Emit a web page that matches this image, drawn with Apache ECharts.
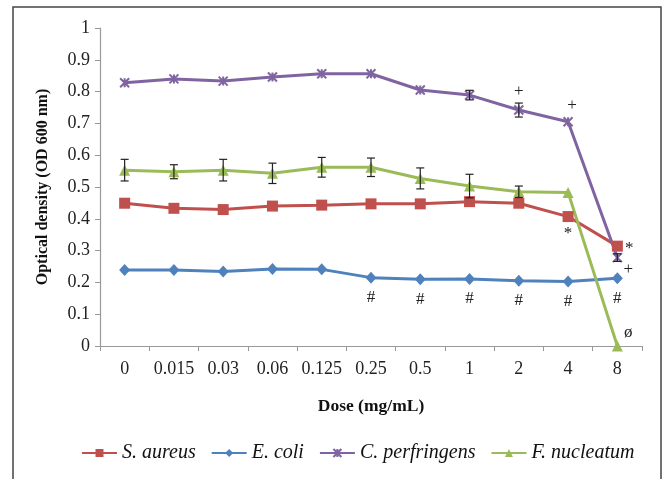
<!DOCTYPE html>
<html><head><meta charset="utf-8">
<script src="https://cdn.jsdelivr.net/npm/echarts@6/dist/echarts.min.js"></script>
<style>html,body{margin:0;padding:0;background:#fff}#c{width:664px;height:479px}</style>
</head><body><div id="c"></div>
<script>
var categories = ['0','0.015','0.03','0.06','0.125','0.25','0.5','1','2','4','8'];
var sAureus      = [0.449,0.433,0.429,0.440,0.443,0.447,0.447,0.454,0.449,0.407,0.314];
var eColi        = [0.239,0.239,0.234,0.242,0.241,0.215,0.210,0.211,0.205,0.203,0.213];
var cPerfringens = [0.828,0.840,0.833,0.846,0.856,0.856,0.805,0.789,0.742,0.705,0.278];
var fNucleatum   = [0.553,0.548,0.553,0.543,0.562,0.562,0.527,0.503,0.485,0.483,0.000];
var errAureus      = [0,0,0,0,0,0,0,0,0,0,0];
var errColi        = [0,0,0,0,0,0,0,0,0,0,0];
var errPerfringens = [0,0,0,0,0,0,0,0.015,0.022,0,0.012];
var errNucleatum   = [0.034,0.022,0.034,0.032,0.031,0.029,0.033,0.037,0.018,0,0];
var markAureus      = ['','','','','','','','','','*','*'];
var markColi        = ['','','','','','#','#','#','#','#','#'];
var markPerfringens = ['','','','','','','','','+','+','+'];
var markNucleatum   = ['','','','','','','','','','','ø'];
var yTicks = {min:0, max:1, interval:0.1};

var serif = '"Liberation Serif","DejaVu Serif",serif';
var colors = {aureus:'#C0504D', coli:'#4F81BD', perf:'#8064A2', nuc:'#9BBB59'};

function withMarks(values, marks, offsets){
  return values.map(function(v,i){
    var m = marks[i];
    if(!m) return v;
    var off = offsets(i);
    return {value:v, label:{show:true, formatter:m, position:'inside', offset:off,
      color:'#222', fontFamily:serif, fontSize:17}};
  });
}

function errSeries(values, errs){
  var data = values.map(function(v,i){return [i, v, errs[i]];});
  return {
    type:'custom', z:5, silent:true, legendHoverLink:false,
    renderItem:function(params, api){
      var e = api.value(2);
      if(!e) return;
      var i = api.value(0), v = api.value(1);
      var top = api.coord([i, v+e]);
      var bot = api.coord([i, v-e]);
      var w = 4;
      var st = {stroke:'#222', lineWidth:1.2};
      return {type:'group', children:[
        {type:'line', shape:{x1:top[0],y1:top[1],x2:bot[0],y2:bot[1]}, style:st},
        {type:'line', shape:{x1:top[0]-w,y1:top[1],x2:top[0]+w,y2:top[1]}, style:st},
        {type:'line', shape:{x1:bot[0]-w,y1:bot[1],x2:bot[0]+w,y2:bot[1]}, style:st}
      ]};
    },
    data:data
  };
}

var starPath = 'path://M0,0L10,10M10,0L0,10M5,0L5,10';

var chart = echarts.init(document.getElementById('c'));
chart.setOption({
  animation:false,
  backgroundColor:'#fff',
  graphic:[{type:'rect', shape:{x:13,y:7,width:648,height:500},
    style:{fill:'none', stroke:'#444', lineWidth:1.5}, z:-1}],
  grid:{left:100, right:22, top:28, bottom:133},
  legend:{
    bottom:11, left:76, itemWidth:35, itemHeight:10, itemGap:15,
    textStyle:{fontFamily:serif, fontStyle:'italic', fontSize:20, color:'#111'},
    data:['S. aureus','E. coli','C. perfringens','F. nucleatum']
  },
  xAxis:{
    type:'category', data:categories, boundaryGap:true,
    name:'Dose (mg/mL)', nameLocation:'middle', nameGap:51,
    nameTextStyle:{fontFamily:serif, fontWeight:'bold', fontSize:17.5, color:'#111'},
    axisLine:{lineStyle:{color:'#999', width:1.2}},
    axisTick:{show:true, length:5, lineStyle:{color:'#999'}},
    axisLabel:{interval:0, fontFamily:serif, fontSize:18, color:'#222', margin:14}
  },
  yAxis:{
    type:'value', min:yTicks.min, max:yTicks.max, interval:yTicks.interval,
    name:'Optical density (OD 600 nm)', nameLocation:'middle', nameGap:49,
    nameTextStyle:{fontFamily:serif, fontWeight:'bold', fontSize:16, color:'#111'},
    splitLine:{show:false},
    axisLine:{show:true, lineStyle:{color:'#999', width:1.2}},
    axisTick:{show:true, length:5, lineStyle:{color:'#999'}},
    axisLabel:{fontFamily:serif, fontSize:18, color:'#222', margin:10}
  },
  series:[
    {name:'S. aureus', type:'line', color:colors.aureus, symbol:'rect', symbolSize:11,
     lineStyle:{width:3}, z:3,
     data:withMarks(sAureus, markAureus, function(i){return i===10?[12,2]:[0,17];})},
    {name:'E. coli', type:'line', color:colors.coli, symbol:'diamond', symbolSize:[11,12],
     lineStyle:{width:3}, z:3,
     data:withMarks(eColi, markColi, function(i){return [0,20];})},
    {name:'C. perfringens', type:'line', color:colors.perf, symbol:starPath, symbolSize:9,
     itemStyle:{borderColor:colors.perf, borderWidth:2},
     lineStyle:{width:3}, z:3,
     data:withMarks(cPerfringens, markPerfringens, function(i){
       return i===10?[11,12]:(i===8?[0,-19]:[4,-16]);})},
    {name:'F. nucleatum', type:'line', color:colors.nuc, symbol:'triangle', symbolSize:11,
     lineStyle:{width:3}, z:3,
     data:withMarks(fNucleatum, markNucleatum, function(i){return [11,-13];})},
    errSeries(sAureus, errAureus),
    errSeries(eColi, errColi),
    errSeries(cPerfringens, errPerfringens),
    errSeries(fNucleatum, errNucleatum)
  ]
});
</script></body></html>
